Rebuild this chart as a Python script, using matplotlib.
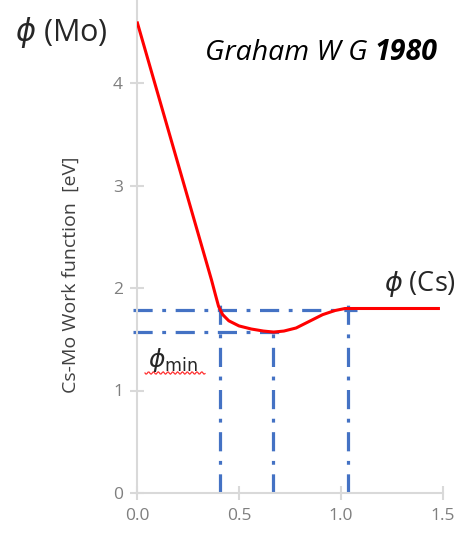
import numpy as np
import matplotlib.pyplot as plt
from matplotlib.ticker import MultipleLocator

# Cs coverage vs Cs-Mo work function (Graham 1980)
cov = [0.0, 0.365, 0.385, 0.40, 0.42, 0.45, 0.50, 0.56, 0.62, 0.67,
       0.72, 0.78, 0.84, 0.91, 0.97, 1.02, 1.10, 1.485]
phi = [4.6, 2.08, 1.93, 1.82, 1.74, 1.68, 1.63, 1.60, 1.58, 1.57,
       1.58, 1.61, 1.67, 1.74, 1.78, 1.80, 1.80, 1.80]

# guide lines
phi_levels = [1.785, 1.57]
level_ends = [1.08, 0.73]
cov_marks = [0.407, 0.667, 1.034]
mark_tops = [1.90, 1.64, 1.90]

plt.rcParams['font.family'] = ['Open Sans', 'DejaVu Sans']

fig = plt.figure(figsize=(4.66, 5.37), dpi=100)
ax = fig.add_axes([137 / 466, 1 - 493 / 537, 306 / 466, 493 / 537])

ax.plot(cov, phi, color='#ff0000', lw=2.2, zorder=3, solid_capstyle='butt')

blue = '#4472c4'
dash = (0, (6, 3, 1.2, 3))
for lv, end in zip(phi_levels, level_ends):
    ax.plot([-0.02, end], [lv, lv], color=blue, lw=2.3, ls=dash, zorder=2,
            clip_on=False)
for cx, top in zip(cov_marks, mark_tops):
    ax.plot([cx, cx], [0, top], color=blue, lw=2.3, ls=dash, zorder=2,
            clip_on=False)

ax.set_xlim(0, 1.5)
ax.set_ylim(0, 493 / 102.5)
ax.xaxis.set_major_locator(MultipleLocator(0.5))
ax.yaxis.set_major_locator(MultipleLocator(1))
ax.xaxis.set_major_formatter(plt.FuncFormatter(lambda v, p: f'{v:.1f}'))
ax.yaxis.set_major_formatter(plt.FuncFormatter(lambda v, p: f'{v:.0f}'))

for s in ['top', 'right']:
    ax.spines[s].set_visible(False)
for s in ['left', 'bottom']:
    ax.spines[s].set_color('#d9d9d9')
    ax.spines[s].set_linewidth(1.5)
ax.tick_params(axis='both', direction='inout', length=10, width=1.5,
               color='#d9d9d9', labelcolor='#7f7f7f', labelsize=12.5)
ax.tick_params(axis='x', pad=6)
ax.tick_params(axis='y', pad=5)

ax.set_ylabel('Cs-Mo Work function  [eV]', fontsize=14, color='#404040')
ax.yaxis.set_label_coords(-0.186, 0.442)

fig.text(15 / 466, 1 - 33 / 537, r'$\phi$ (Mo)', fontsize=22, color='#262626',
         va='center', ha='left')
fig.text(384 / 466, 1 - 284 / 537, r'$\phi$ (Cs)', fontsize=19.5,
         color='#262626', va='center', ha='left')
fig.text(148 / 466, 1 - 360 / 537, r'$\phi_{\mathrm{min}}$', fontsize=18,
         color='#262626', va='center', ha='left')

# author/year note: italic name, bold italic year on one baseline
base_y = 1 - 60 / 537
t1 = fig.text(205 / 466, base_y, 'Graham W G ', fontsize=20.5,
              style='italic', va='baseline', ha='left')
fig.canvas.draw()
x_end = fig.transFigure.inverted().transform(
    (t1.get_window_extent().x1, 0))[0]
fig.text(x_end, base_y, '1980', fontsize=20.5, style='italic',
         weight='bold', va='baseline', ha='left')

# spell-check squiggle under the phi_min label
wx = np.linspace(145, 205, 60)
wy = 373 + 1.2 * np.sin((wx - 145) * 1.3)
fig.add_artist(plt.Line2D(wx / 466, 1 - wy / 537, color='#ff3030', lw=0.9))

fig.savefig('out.png', dpi=100)
